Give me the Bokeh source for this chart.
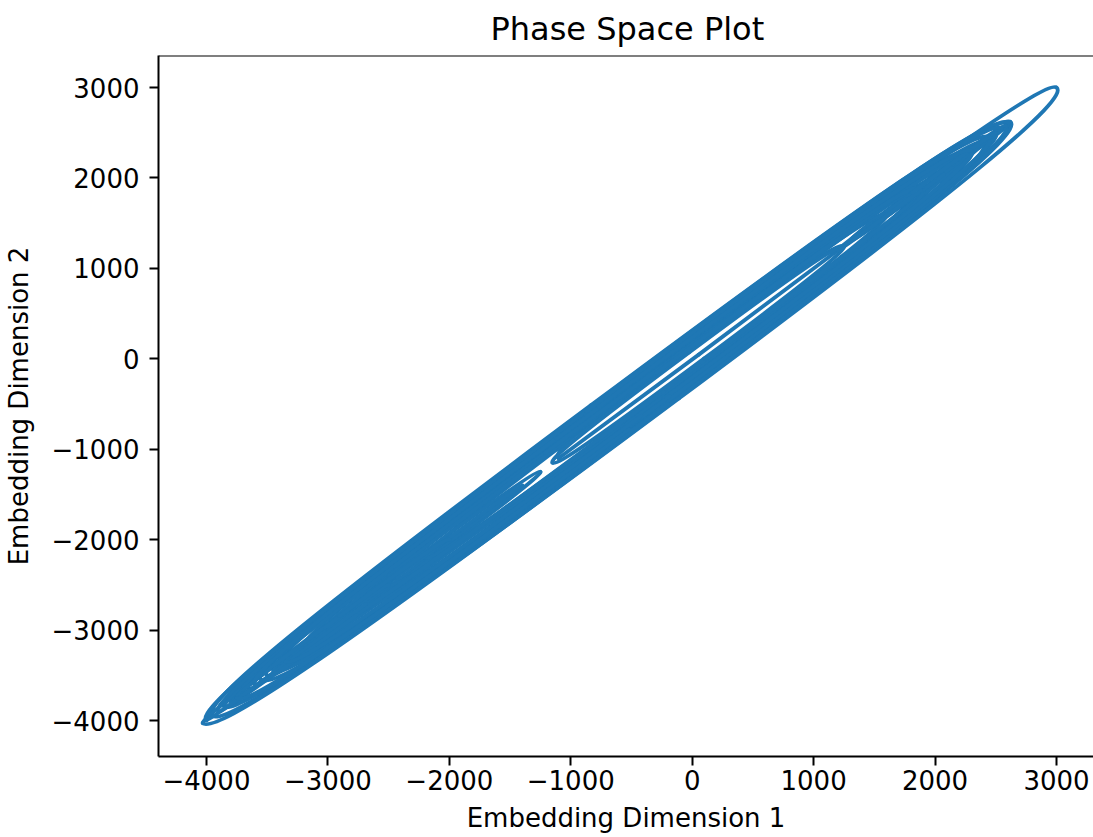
import numpy as np
from bokeh.plotting import figure
from bokeh.models import FixedTicker, Span, ColumnDataSource
from bokeh.embed import file_html
from bokeh.resources import INLINE

# Turning points of the embedded signal (tips of the loops on the diagonal)
turns = [-3650, 2450, -3950, 2600, -3400, 2620, -4030, -1250, -3850, 2300,
         -3200, 3000, -3550, 2150, 1300, 2580, -3800, -2200, -3600, 1800,
         -2500, 2400, -3100, 1250, -1150, 1200, -1100, 2050, -3500, 2610,
         1500, 2500, -3850, 1600, -2200, 2000, -3300, -1900, -3700, 2200,
         -2800, 2350, -3000, -2500, -3900, 1900, -3450, -1400, -4000, 2550,
         1200, 2450, -3750, -2000, -3600, 2300, -3350]
# Offset of each arc from the diagonal at its middle (data units, + above, - below)
bulges = [300, -300, 320, -280, 250, -320, 70, -60, 290,
          -240, 220, -330, 270, -30, 40, -290, 50, -45, 200,
          -170, 180, -300, 150, -95, 95, -8, 200, -200, 310,
          -35, 30, -250, 170, -130, 120, -150, 40, -35, 260,
          -230, 140, -120, 25, -40, 230, -270, 20, -25, 290,
          -20, 25, -260, 60, -70, 240, -210]

x_ticks = [-4000, -3000, -2000, -1000, 0, 1000, 2000, 3000]
y_ticks = [-4000, -3000, -2000, -1000, 0, 1000, 2000, 3000]

title_text = "Phase Space Plot"
x_label = "Embedding Dimension 1"
y_label = "Embedding Dimension 2"

# Each arc (tip a -> tip b, bulge B) is drawn as two cubic Bezier halves meeting
# at the middle of the arc; KAPPA sets how flat the arc is.
KAPPA = 0.72
a = np.array(turns[:-1], dtype=float)
b = np.array(turns[1:], dtype=float)
B = np.array(bulges, dtype=float)
nx, ny = -B / 2.0, B / 2.0               # offset vector from the diagonal
hv = (b - a) / 2.0                        # half-span along the diagonal
mx, my = (a + b) / 2.0 + nx, (a + b) / 2.0 + ny
seg = dict(
    x0=np.concatenate([a, mx]), y0=np.concatenate([a, my]),
    x1=np.concatenate([mx, b]), y1=np.concatenate([my, b]),
    cx0=np.concatenate([a + KAPPA * nx, mx + KAPPA * hv]),
    cy0=np.concatenate([a + KAPPA * ny, my + KAPPA * hv]),
    cx1=np.concatenate([mx - KAPPA * hv, b + KAPPA * nx]),
    cy1=np.concatenate([my - KAPPA * hv, b + KAPPA * ny]),
)
src = ColumnDataSource(seg)

x_start, x_end = -4395, 3305
y_start, y_end = -4398, 3354

p = figure(width=1093, height=837, output_backend="svg", toolbar_location=None,
           x_range=(x_start, x_end), y_range=(y_start, y_end),
           min_border_left=158, min_border_right=0, min_border_top=55, min_border_bottom=81)

p.bezier(x0="x0", y0="y0", x1="x1", y1="y1", cx0="cx0", cy0="cy0", cx1="cx1", cy1="cy1",
         source=src, line_color="#1f77b4", line_width=3.8, line_cap="round")

p.grid.visible = False
p.outline_line_color = None
p.background_fill_color = "white"
p.border_fill_color = "white"
p.add_layout(Span(location=y_end, dimension="width", line_color="black", line_width=2))

FONT = "DejaVu Sans"
p.title.text = title_text
p.title.text_font = FONT
p.title.text_font_size = "32px"
p.title.text_font_style = "normal"
p.title.text_color = "black"
p.title.text_line_height = 1.0
p.title.align = "left"
p.title.offset = 332
p.title.standoff = 15

p.xaxis.ticker = FixedTicker(ticks=x_ticks)
p.yaxis.ticker = FixedTicker(ticks=y_ticks)
p.xaxis.major_label_overrides = {t: str(t).replace("-", "\u2212") for t in x_ticks}
p.yaxis.major_label_overrides = {t: str(t).replace("-", "\u2212") for t in y_ticks}
p.xaxis.axis_label = x_label
p.yaxis.axis_label = y_label

for ax in (p.xaxis, p.yaxis):
    ax.axis_line_color = "black"
    ax.axis_line_width = 2
    ax.major_tick_line_color = "black"
    ax.major_tick_line_width = 2
    ax.major_tick_out = 9
    ax.major_tick_in = 0
    ax.minor_tick_line_color = None
    ax.major_label_text_font = FONT
    ax.major_label_text_font_size = "26px"
    ax.major_label_text_color = "black"
    ax.axis_label_text_font = FONT
    ax.axis_label_text_font_size = "26px"
    ax.axis_label_text_font_style = "normal"
    ax.axis_label_text_color = "black"

p.xaxis.major_label_standoff = 4
p.xaxis.axis_label_standoff = 10
p.yaxis.major_label_standoff = 10
p.yaxis.axis_label_standoff = 15

open("out.html", "w").write(file_html(p, INLINE))
